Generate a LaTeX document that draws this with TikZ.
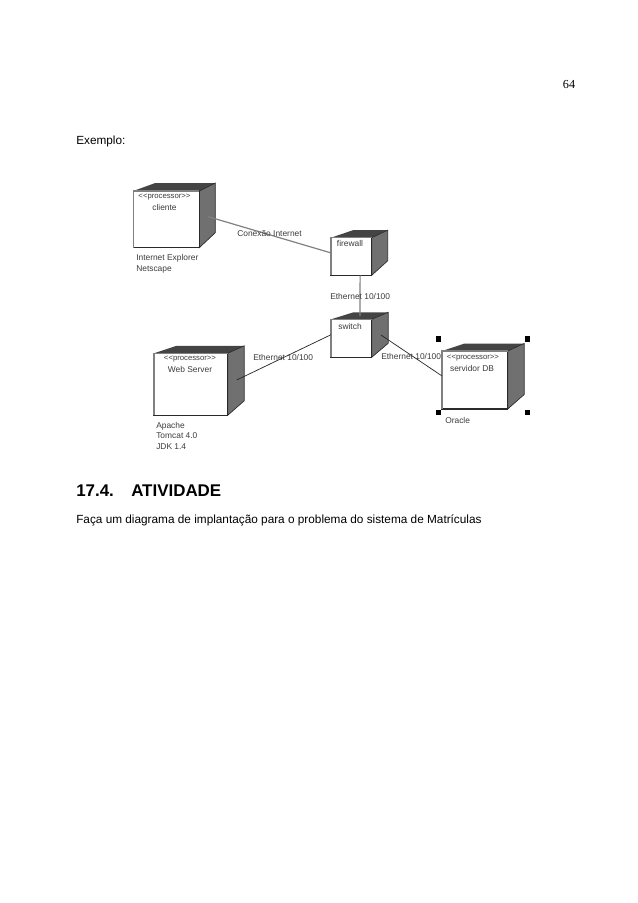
\documentclass[tikz,border=0pt]{standalone}
\usepackage{fontspec}
\setmainfont{Liberation Sans}[Ligatures=NoCommon]
\newfontfamily\pagefont{Liberation Serif}
\definecolor{sideface}{HTML}{707070}
\definecolor{topface}{HTML}{444444}
\definecolor{edgegray}{HTML}{2A2A2A}
\definecolor{labelgray}{HTML}{3C3C3C}
\tikzset{
  frontface/.style={draw=edgegray,fill=white,line width=0.8pt,inner sep=0pt,outer sep=0pt},
  umllabel/.style={font=\fontsize{6.3}{7}\selectfont,text=labelgray,inner sep=0pt},
  typelabel/.style={umllabel,font=\fontsize{5.8}{7}\selectfont},
  bodytext/.style={font=\fontsize{8.85}{11}\selectfont,anchor=west,inner sep=0pt},
  titletext/.style={font=\bfseries\fontsize{12.7}{14}\selectfont,anchor=west,inner sep=0pt},
  link/.style={draw=edgegray,line width=0.55pt},
  handle/.style={fill=black,draw=none,minimum size=3.8pt,inner sep=0pt}
}
\begin{document}
\begin{tikzpicture}[x=0.75pt,y=-0.75pt]
  \useasboundingbox (0,0) rectangle (638,903);
  \node[font=\pagefont\fontsize{9.2}{11}\selectfont,inner sep=0pt] (pagenum) at (569,84) {64};
  \node[bodytext] (exemplo) at (76,141) {Exemplo:};
  % cubes
  \foreach \nm/\xa/\ya/\xb/\yb/\dx/\dy in {cliente/133.3/191/199.3/247.7/16/8,
      firewall/331/237.7/371.7/275.3/16/7.5, switch/331/319.3/371.7/357.3/16.5/7,
      webserver/154/353.3/227.7/415.3/16.5/7.5, servidor/442/351/507.7/409/16.5/7.5} {
    \fill[topface] (\xa,\ya) -- ({\xa+\dx+6},{\ya-\dy}) -- ({\xb+\dx},{\ya-\dy}) -- (\xb,\ya) -- cycle;
    \fill[sideface,draw=edgegray,line width=0.5pt] (\xb,\ya) -- ({\xb+\dx},{\ya-\dy}) -- ({\xb+\dx},{\yb-\dy-7}) -- (\xb,\yb) -- cycle;
    \node[frontface,minimum width={(\xb-\xa)*0.75pt},minimum height={(\yb-\ya)*0.75pt}] (\nm) at ({(\xa+\xb)/2},{(\ya+\yb)/2}) {};
    \draw[gray,line width=0.8pt] (\nm.south west) -- (\nm.north west) -- (\nm.north east);
  }
  % connectors
  \coordinate (clienteport) at (208.3,216.7);
  \coordinate (switchtop) at (360,316);
  \coordinate (webport) at (236.7,380);
  \coordinate (switchport) at (381,335);
  \draw[link,draw=gray,line width=0.9pt] (clienteport) -- (firewall.170);
  \draw[link,draw=gray,line width=0.9pt] (firewall.-65) -- (switchtop);
  \draw[link] (switch.170) -- (webport);
  \draw[link] (switchport) -- (servidor.173);
  % selection handles
  \foreach \nm/\x/\y in {hnw/438.3/339,hne/527.3/339,hsw/438.3/412.3,hse/527.3/412.3}
    \node[handle] (\nm) at (\x,\y) {};
  % labels
  \node[typelabel] (clientetype) at (164.5,197) {<{}<processor>{}>};
  \node[umllabel] (clientename) at (164.5,207) {cliente};
  \node[umllabel,anchor=west] (ie) at (136,258.5) {Internet Explorer};
  \node[umllabel,anchor=west] (netscape) at (136,269) {Netscape};
  \node[umllabel,anchor=west] (conexao) at (237,234) {Conexão Internet};
  \node[umllabel] (firewallname) at (350,243) {firewall};
  \node[umllabel,anchor=west] (ethtop) at (330,296) {Ethernet 10/100};
  \node[umllabel] (switchname) at (350,326) {switch};
  \node[typelabel] (webtype) at (190,359) {<{}<processor>{}>};
  \node[umllabel] (webname) at (190,369.5) {Web Server};
  \node[umllabel,anchor=west] (ethweb) at (253,357) {Ethernet 10/100};
  \node[umllabel,anchor=west] (apache) at (156,426) {Apache};
  \node[umllabel,anchor=west] (tomcat) at (156,436) {Tomcat 4.0};
  \node[umllabel,anchor=west] (jdk) at (156,447) {JDK 1.4};
  \node[umllabel,anchor=west] (ethdb) at (381,356) {Ethernet 10/100};
  \node[typelabel] (servidortype) at (473,358) {<{}<processor>{}>};
  \node[umllabel] (servidorname) at (472,368) {servidor DB};
  \node[umllabel,anchor=west] (oracle) at (445,420) {Oracle};
  % text below
  \node[titletext] (secnum) at (76,490.5) {17.4.};
  \node[titletext] (sectitle) at (131,490.5) {ATIVIDADE};
  \node[bodytext] (atividade) at (76,520) {Faça um diagrama de implantação para o problema do sistema de Matrículas};
\end{tikzpicture}
\end{document}
